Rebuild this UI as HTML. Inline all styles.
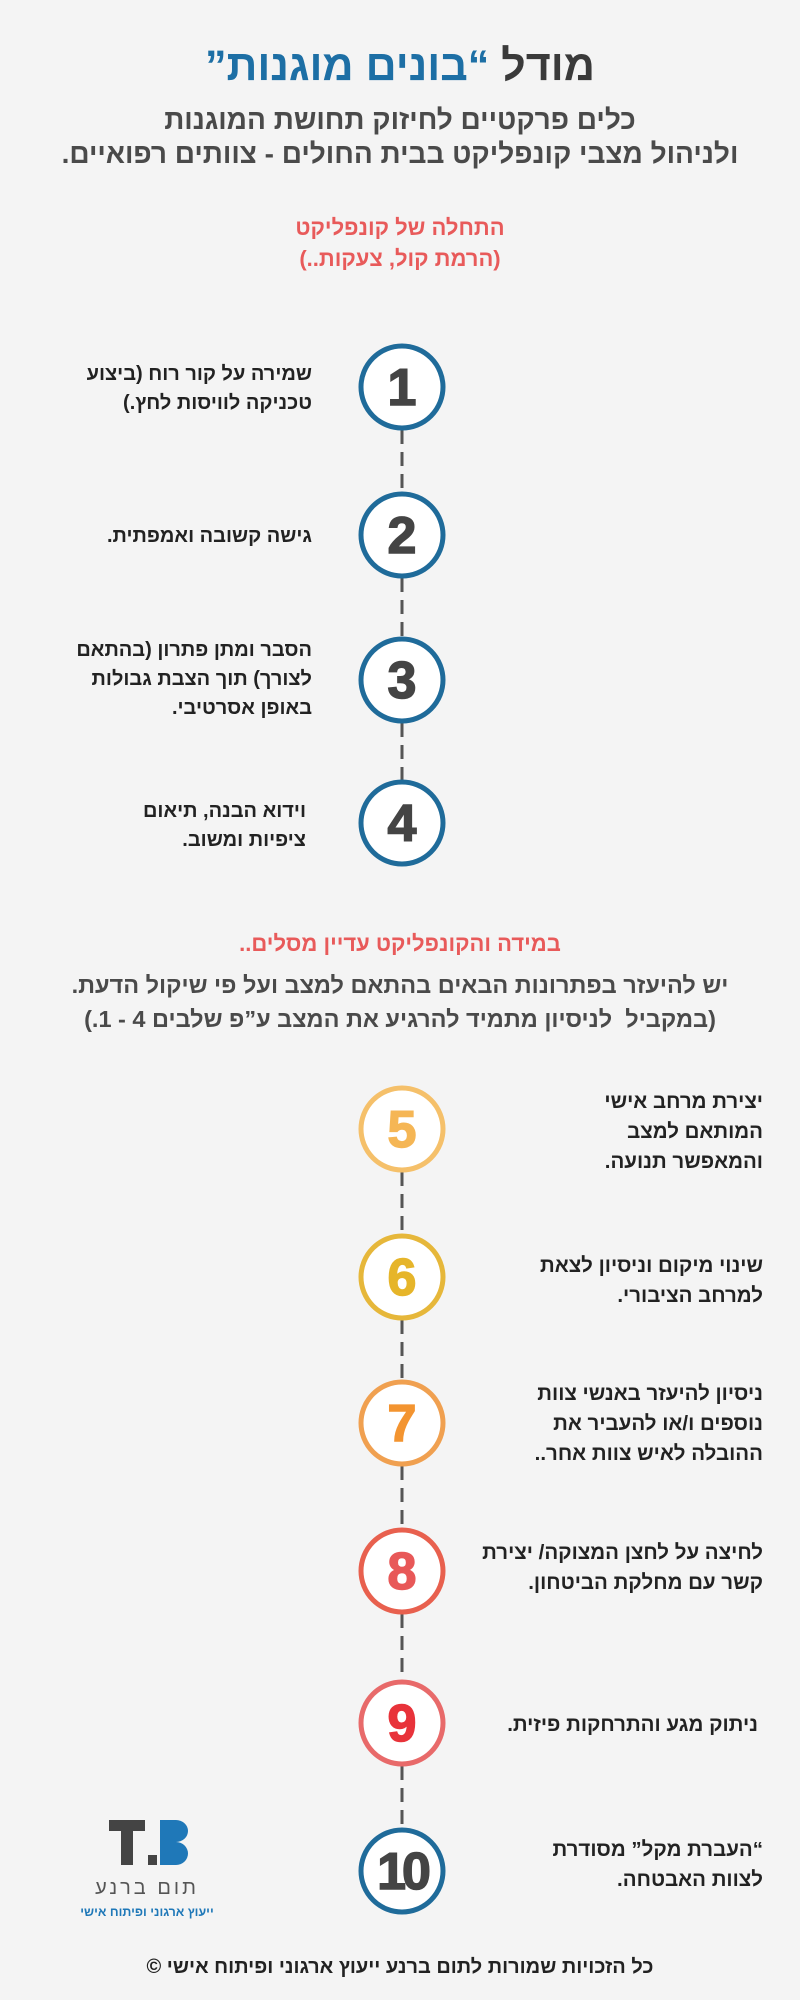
<!DOCTYPE html>
<html><head><meta charset="utf-8"><style>
body{margin:0;width:800px;height:2000px;background:#f4f4f4;position:relative;overflow:hidden;font-family:"Liberation Sans","Noto Sans CJK SC",sans-serif;}
.t{position:absolute;direction:rtl;font-weight:bold;color:#222;}
.c{left:0;width:800px;text-align:center;}
.l{right:488px;text-align:right;font-size:20px;line-height:29px;}
.r{right:37px;text-align:right;font-size:20.5px;line-height:30px;}
</style></head><body>
<svg width="800" height="2000" style="position:absolute;left:0;top:0">
<g stroke="#555" stroke-width="3" stroke-dasharray="14 8">
<line x1="402" y1="430" x2="402" y2="492"/><line x1="402" y1="578" x2="402" y2="637"/><line x1="402" y1="723" x2="402" y2="780"/>
<line x1="402" y1="1172" x2="402" y2="1234"/><line x1="402" y1="1320" x2="402" y2="1380"/><line x1="402" y1="1466" x2="402" y2="1528"/><line x1="402" y1="1614" x2="402" y2="1680"/><line x1="402" y1="1766" x2="402" y2="1828"/>
</g>
<g fill="#fff" stroke-width="5">
<circle cx="402" cy="387" r="41" stroke="#1f6b9a"/><circle cx="402" cy="535" r="41" stroke="#1f6b9a"/><circle cx="402" cy="680" r="41" stroke="#1f6b9a"/><circle cx="402" cy="823" r="41" stroke="#1f6b9a"/>
<circle cx="402" cy="1129" r="41" stroke="#f5c06a"/><circle cx="402" cy="1277" r="41" stroke="#e6b73a"/><circle cx="402" cy="1423" r="41" stroke="#f0a050"/><circle cx="402" cy="1571" r="41" stroke="#e8604e"/><circle cx="402" cy="1723" r="41" stroke="#e86a6a"/><circle cx="402" cy="1871" r="41" stroke="#1f6b9a"/>
</g>
<g font-family="Liberation Sans, sans-serif" font-weight="bold" font-size="52" text-anchor="middle" stroke-width="1.5">
<text x="402" y="405" fill="#444" stroke="#444">1</text><text x="402" y="553" fill="#444" stroke="#444">2</text><text x="402" y="698" fill="#444" stroke="#444">3</text><text x="402" y="841" fill="#444" stroke="#444">4</text>
<text x="402" y="1147" fill="#f5b655" stroke="#f5b655">5</text><text x="402" y="1295" fill="#e6b52a" stroke="#e6b52a">6</text><text x="402" y="1441" fill="#f39430" stroke="#f39430">7</text><text x="402" y="1589" fill="#e85858" stroke="#e85858">8</text><text x="402" y="1741" fill="#e8333a" stroke="#e8333a">9</text><text x="402" y="1889" fill="#444" stroke="#444" letter-spacing="-4">10</text>
</g>
<rect x="109" y="1820" width="36" height="11" fill="#444"/><rect x="121" y="1820" width="12" height="45" fill="#444"/>
<rect x="148" y="1855" width="9" height="10" fill="#444"/>
<path d="M160 1820h16a12 11 0 0 1 0 22a12 11.5 0 0 1 0 23h-16z" fill="#1f78b8"/>
<text x="147" y="1894" text-anchor="middle" font-size="20" fill="#555" font-family="Liberation Sans, sans-serif" letter-spacing="3">תום ברנע</text>
<text x="147" y="1916" text-anchor="middle" font-size="12.5" fill="#1f78b8" font-family="Liberation Sans, sans-serif" font-weight="bold">ייעוץ ארגוני ופיתוח אישי</text>
</svg>
<div class="t c" style="top:40px;font-size:43px;color:#3a3a3a;line-height:52px">מודל <span style="color:#1d6fa5">“בונים מוגנות”</span></div>
<div class="t c" style="top:103px;font-size:28px;line-height:34px;color:#4a4a4a">כלים פרקטיים לחיזוק תחושת המוגנות<br>ולניהול מצבי קונפליקט בבית החולים - צוותים רפואיים.</div>
<div class="t c" style="top:212px;font-size:22px;line-height:31px;color:#e85a5a">התחלה של קונפליקט<br>(הרמת קול, צעקות..)</div>
<div class="t l" style="top:360px">שמירה על קור רוח (ביצוע<br>טכניקה לוויסות לחץ.)</div>
<div class="t l" style="top:522px">גישה קשובה ואמפתית.</div>
<div class="t l" style="top:636px">הסבר ומתן פתרון (בהתאם<br>לצורך) תוך הצבת גבולות<br>באופן אסרטיבי.</div>
<div class="t l" style="top:797px;right:494px">וידוא הבנה, תיאום<br>ציפיות ומשוב.</div>
<div class="t c" style="top:929px;font-size:22px;color:#e85a5a;line-height:30px">במידה והקונפליקט עדיין מסלים..</div>
<div class="t c" style="top:968px;font-size:23.5px;line-height:34px;color:#4a4a4a">יש להיעזר בפתרונות הבאים בהתאם למצב ועל פי שיקול הדעת.<br>(במקביל &nbsp;לניסיון מתמיד להרגיע את המצב ע”פ שלבים 4 - 1.)</div>
<div class="t r" style="top:1087px">יצירת מרחב אישי<br>המותאם למצב<br>והמאפשר תנועה.</div>
<div class="t r" style="top:1251px">שינוי מיקום וניסיון לצאת<br>למרחב הציבורי.</div>
<div class="t r" style="top:1379px">ניסיון להיעזר באנשי צוות<br>נוספים ו/או להעביר את<br>ההובלה לאיש צוות אחר..</div>
<div class="t r" style="top:1538px">לחיצה על לחצן המצוקה/ יצירת<br>קשר עם מחלקת הביטחון.</div>
<div class="t r" style="top:1710px;right:42px">ניתוק מגע והתרחקות פיזית.</div>
<div class="t r" style="top:1835px">“העברת מקל” מסודרת<br>לצוות האבטחה.</div>
<div class="t c" style="top:1953px;font-size:20px;line-height:28px;color:#222">כל הזכויות שמורות לתום ברנע ייעוץ ארגוני ופיתוח אישי ©</div>
</body></html>
